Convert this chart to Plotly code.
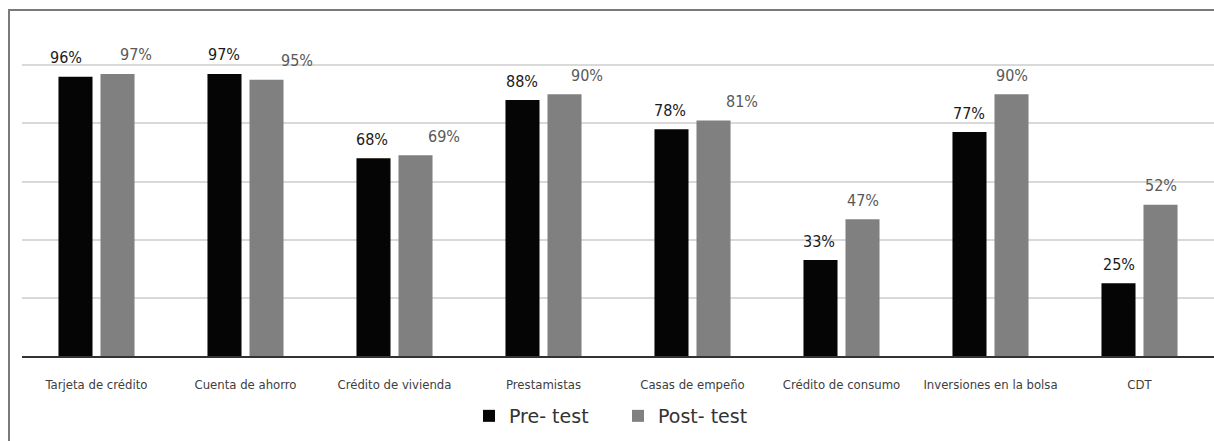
import plotly.graph_objects as go

# Survey categories and share of respondents (fraction) before / after the intervention
categories = [
    "Tarjeta de crédito", "Cuenta de ahorro", "Crédito de vivienda", "Prestamistas",
    "Casas de empeño", "Crédito de consumo", "Inversiones en la bolsa", "CDT",
]
pre_test = [0.96, 0.97, 0.68, 0.88, 0.78, 0.33, 0.77, 0.25]
post_test = [0.97, 0.95, 0.69, 0.90, 0.81, 0.47, 0.90, 0.52]
series_names = ["Pre- test", "Post- test"]

# Horizontal nudges (px) for the value labels of each series
pre_label_dx = [-10, -1, -2, -1, -2, -2, -1, 0]
post_label_dx = [18, 30, 28, 22, 28, 0, 0, 0]

W, H = 1214, 441
# The paper area starts at the chart border (10 px from the left, 11 px from the top)
M_L, M_R, M_T, M_B = 10, 0, 11, 0
PAPER_W = W - M_L - M_R
PAPER_H = H - M_T - M_B
# Bar plot area in pixels
PLOT_LEFT, PLOT_TOP, PLOT_BOTTOM = 22, 64, 356

x_dom = [(PLOT_LEFT - M_L) / PAPER_W, 1.0]
y_dom = [(H - PLOT_BOTTOM) / PAPER_H, (H - PLOT_TOP) / PAPER_H]

NARROW = "DejaVu Sans Condensed, Liberation Sans Narrow, Arial Narrow, sans-serif"

fig = go.Figure()
fig.add_trace(go.Bar(x=categories, y=pre_test, name=series_names[0],
                     marker=dict(color="#050505", line=dict(width=0))))
fig.add_trace(go.Bar(x=categories, y=post_test, name=series_names[1],
                     marker=dict(color="#808080", line=dict(width=0))))
# Empty trace that carries the border axes (top and left edges of the chart frame)
fig.add_trace(go.Scatter(x=[], y=[], xaxis="x2", yaxis="y2", showlegend=False,
                         hoverinfo="skip", mode="markers"))

annotations = []
for i, cat in enumerate(categories):
    annotations.append(dict(
        x=cat, y=pre_test[i], xref="x", yref="y", text=f"{round(pre_test[i] * 100)}%",
        showarrow=False, xshift=-21 + pre_label_dx[i], yshift=19, yanchor="middle",
        font=dict(family=NARROW, size=16, color="#1a1a1a"),
    ))
    annotations.append(dict(
        x=cat, y=post_test[i], xref="x", yref="y", text=f"{round(post_test[i] * 100)}%",
        showarrow=False, xshift=21 + post_label_dx[i], yshift=19, yanchor="middle",
        font=dict(family=NARROW, size=16, color="#595959"),
    ))

frame_line = dict(showline=True, linecolor="#7a7a7a", linewidth=1.5, showgrid=False,
                  zeroline=False, showticklabels=False, ticks="", fixedrange=True)

fig.update_layout(
    width=W, height=H,
    margin=dict(l=M_L, r=M_R, t=M_T, b=M_B, pad=0),
    paper_bgcolor="white", plot_bgcolor="rgba(0,0,0,0)",
    barmode="group", bargap=0.436, bargroupgap=0.19,
    annotations=annotations,
    showlegend=True,
    legend=dict(
        orientation="h", x=(x_dom[0] + x_dom[1]) / 2, xanchor="center",
        y=(H - 416) / PAPER_H, yanchor="middle",
        font=dict(family="DejaVu Sans, Verdana, sans-serif", size=19, color="#333333"),
        entrywidth=104, bgcolor="rgba(0,0,0,0)",
    ),
    xaxis=dict(
        domain=x_dom, anchor="y",
        showgrid=False, showline=True, linecolor="#333333", linewidth=2,
        ticks="", ticklabelstandoff=15,
        tickfont=dict(family=NARROW, size=13, color="#404040"),
    ),
    yaxis=dict(
        domain=y_dom, anchor="x",
        range=[0, 1.004], dtick=0.2, showticklabels=False, showgrid=True,
        gridcolor="#d9d9d9", gridwidth=1.5, zeroline=False, showline=False,
    ),
    xaxis2=dict(domain=[0, 1], anchor="y2", side="top", range=[0, 1], **frame_line),
    yaxis2=dict(domain=[0, 1], anchor="x2", side="left", range=[0, 1], **frame_line),
)

fig.write_html("out.html")
